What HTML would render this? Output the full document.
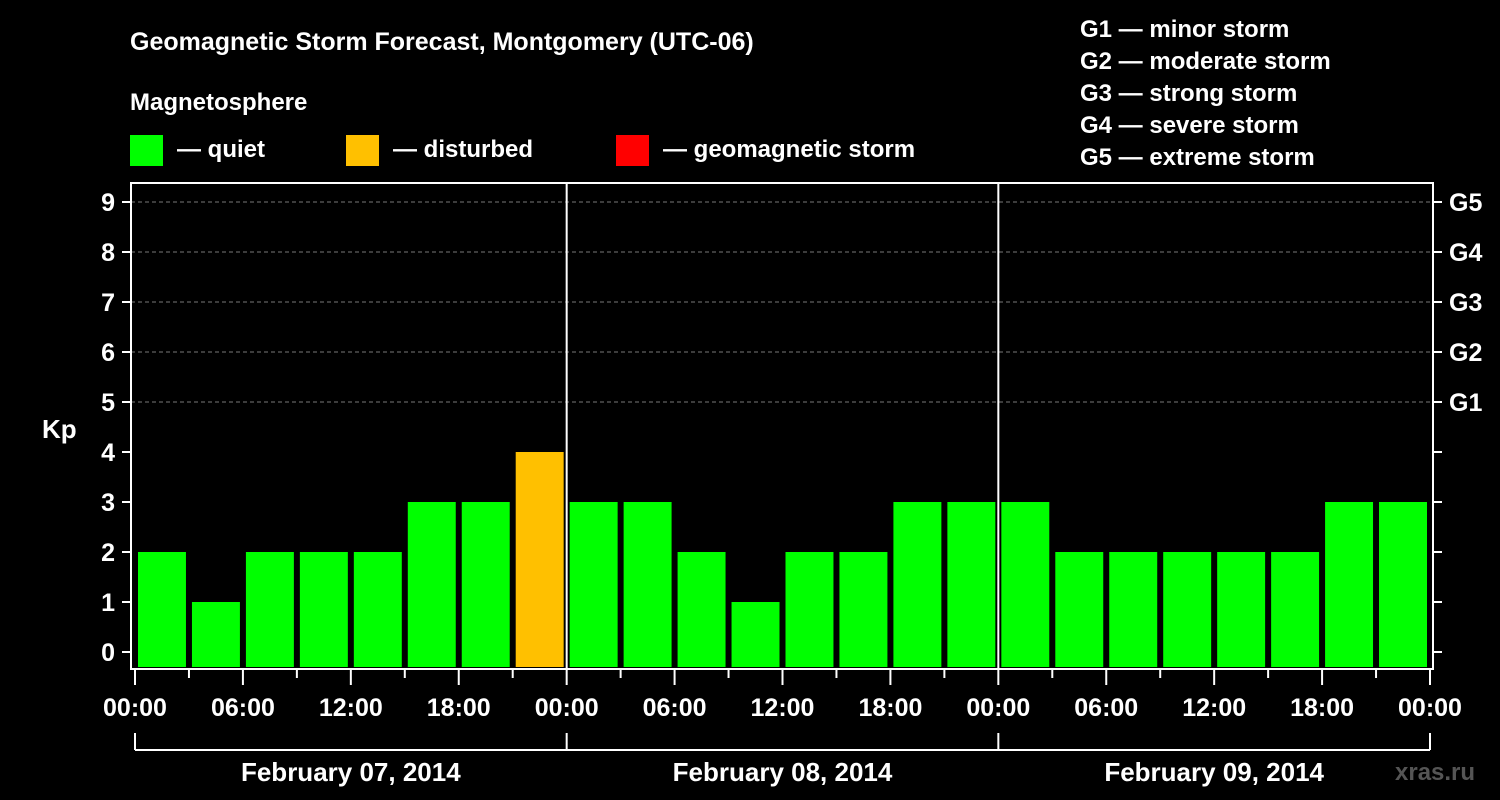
<!DOCTYPE html>
<html><head><meta charset="utf-8"><style>
body{margin:0;background:#000;width:1500px;height:800px;overflow:hidden}
svg{display:block;font-family:"Liberation Sans",Arial,sans-serif;font-weight:bold}
</style></head><body>
<svg id="c" width="1500" height="800">
<rect width="1500" height="800" fill="#000"/>
<text x="130" y="50" fill="#fff" font-size="25">Geomagnetic Storm Forecast, Montgomery (UTC-06)</text>
<text x="130" y="110" fill="#fff" font-size="24">Magnetosphere</text>
<g><rect x="130" y="135" width="33" height="31" fill="#00ff00"/><text x="177" y="157" fill="#fff" font-size="24">— quiet</text></g>
<g><rect x="346" y="135" width="33" height="31" fill="#ffc000"/><text x="393" y="157" fill="#fff" font-size="24">— disturbed</text></g>
<g><rect x="616" y="135" width="33" height="31" fill="#ff0000"/><text x="663" y="157" fill="#fff" font-size="24">— geomagnetic storm</text></g>
<g fill="#fff" font-size="24">
<text x="1080" y="37">G1 — minor storm</text>
<text x="1080" y="69">G2 — moderate storm</text>
<text x="1080" y="101">G3 — strong storm</text>
<text x="1080" y="133">G4 — severe storm</text>
<text x="1080" y="165">G5 — extreme storm</text>
</g>
<text x="42" y="438" fill="#fff" font-size="26">Kp</text>
<text x="1395" y="780" fill="#555" font-size="24">xras.ru</text>
<g id="plot"></g>
</svg>
<script>
const values = [2,1,2,2,2,3,3,4, 3,3,2,1,2,2,3,3, 3,2,2,2,2,2,3,3];
const dayLabels = ["February 07, 2014","February 08, 2014","February 09, 2014"];
const hourLabels = ["00:00","06:00","12:00","18:00"];
const gLabels = ["G1","G2","G3","G4","G5"];
const yTicks = [0,1,2,3,4,5,6,7,8,9];

const NS="http://www.w3.org/2000/svg";
const g=document.getElementById('plot');
const X0=135,X1=1430,L=131,R=1433,T=183,B=669;
const nSlots=values.length;
const xs=i=>X0+(X1-X0)*i/nSlots;
const ys=v=>652-50*v;
function mk(t,a,p){const e=document.createElementNS(NS,t);for(const k in a)e.setAttribute(k,a[k]);(p||g).appendChild(e);return e;}
// grid
yTicks.forEach(v=>{ if(v>=5){const l=mk('line',{x1:L,x2:R,y1:ys(v),y2:ys(v),stroke:'#777','stroke-dasharray':'4,3'});

}});
// bars
values.forEach((v,i)=>{const col=v>=5?'#ff0000':v>=4?'#ffc000':'#00ff00';
const r=mk('rect',{x:xs(i)+3,y:ys(v),width:(X1-X0)/nSlots-6,height:667-ys(v),fill:col});

});
// frame
const f=mk('rect',{x:L,y:T,width:R-L,height:B-T,fill:'none',stroke:'#fff','stroke-width':2});


// day separators
for(let d=1;d<dayLabels.length;d++){const x=xs(d*8);mk('line',{x1:x,x2:x,y1:T,y2:B,stroke:'#fff','stroke-width':2});}
// y ticks
yTicks.forEach(v=>{mk('line',{x1:122,x2:L,y1:ys(v),y2:ys(v),stroke:'#fff','stroke-width':2});
mk('line',{x1:R,x2:R+9,y1:ys(v),y2:ys(v),stroke:'#fff','stroke-width':2});
const t=mk('text',{x:115,y:ys(v)+9,fill:'#fff','font-size':25,'text-anchor':'end'});t.textContent=v;

});
gLabels.forEach((s,i)=>{const t=mk('text',{x:1449,y:ys(5+i)+9,fill:'#fff','font-size':25});t.textContent=s;

});
// x ticks
for(let i=0;i<=nSlots;i++){const x=xs(i);const major=i%2==0;
mk('line',{x1:x,x2:x,y1:B,y2:major?685:678,stroke:'#fff','stroke-width':2});
if(major){const t=mk('text',{x:x,y:716,fill:'#fff','font-size':25,'text-anchor':'middle'});
t.textContent=i==nSlots?hourLabels[0]:hourLabels[(i/2)%4];

}}
// day brackets
mk('line',{x1:X0,x2:X1,y1:750,y2:750,stroke:'#fff','stroke-width':2});
for(let d=0;d<=dayLabels.length;d++){const x=xs(d*8);mk('line',{x1:x,x2:x,y1:733,y2:750,stroke:'#fff','stroke-width':2});}
dayLabels.forEach((s,d)=>{const t=mk('text',{x:(xs(d*8)+xs(d*8+8))/2,y:781,fill:'#fff','font-size':26,'text-anchor':'middle'});t.textContent=s;

});
</script>
</body></html>
